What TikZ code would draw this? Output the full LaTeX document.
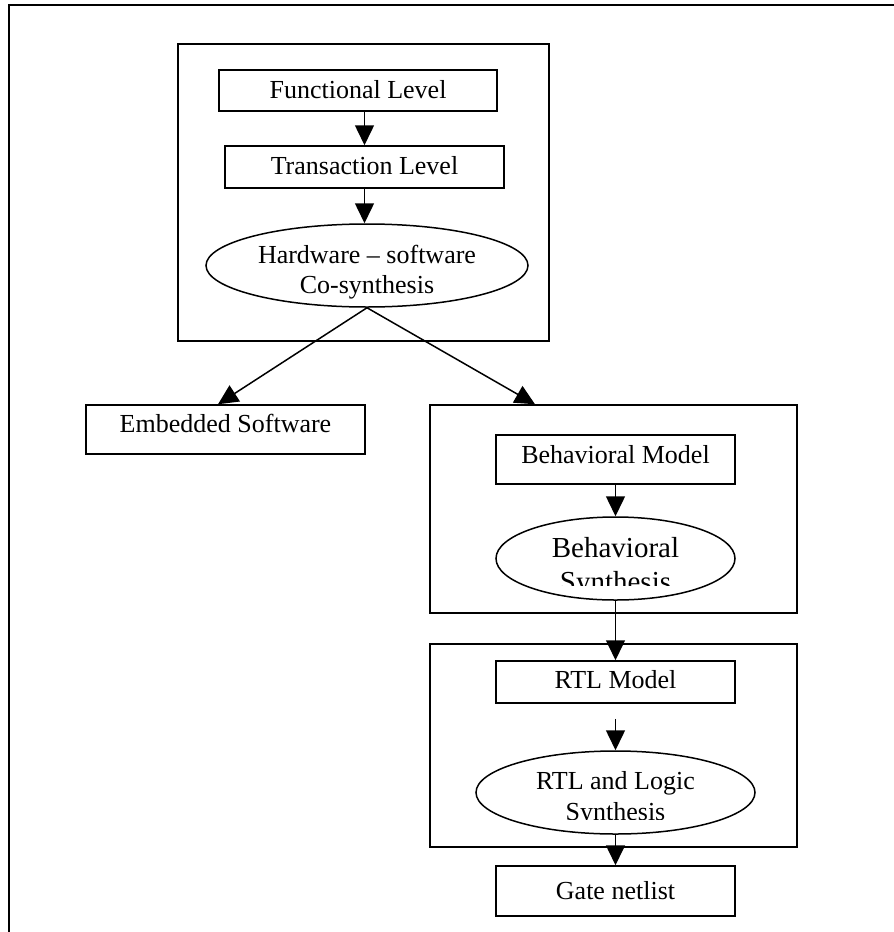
\documentclass[tikz,border=0pt]{standalone}
\usepackage{fontspec}
\setmainfont{Liberation Serif}
\usetikzlibrary{arrows.meta,shapes.geometric}

\tikzset{every picture/.style={line width=1.5pt}}

\begin{document}
\begin{tikzpicture}[
            x=1pt,
            y=1pt,
            yscale=-1,
            xscale=1,
            every node/.style={text=black},
            group/.style={draw, rectangle, inner sep=0pt},
            stage/.style={draw, rectangle, fill=white, inner sep=0pt, text height=17pt, font=\fontsize{26}{30}\selectfont},
            synth/.style={draw, ellipse, fill=white, inner sep=0pt},
            synthtext/.style={align=center, inner sep=0pt, font=\fontsize{26}{30}\selectfont},
            flow/.style={-{Triangle[length=20pt,width=19pt]}},
            line width=1.5pt
        ]
            \useasboundingbox (0,0) rectangle (894,932);
            \draw (9,932) -- (9,5) -- (894,5);

            \node[group, minimum width=371pt, minimum height=297pt] (topgroup) at (363.5,192.5) {};
            \node[group, minimum width=367pt, minimum height=208pt] (behgroup) at (613.5,509) {};
            \node[group, minimum width=367pt, minimum height=203pt] (rtlgroup) at (613.5,745.5) {};

            \node[stage, minimum width=278pt, minimum height=41pt, text depth=2pt] (func) at (358,90.5) {Functional Level};
            \node[stage, minimum width=279pt, minimum height=42pt, text depth=2pt] (trans) at (364.5,167) {Transaction Level};
            \node[synth, minimum width=322pt, minimum height=83pt] (hwsw) at (367,265.5) {};
            \node[synthtext] (hwswtext) at (367,272) {Hardware – software\\Co-synthesis};

            \node[stage, minimum width=279pt, minimum height=49pt, text depth=12pt] (embsw) at (225.5,429.5) {Embedded Software};

            \node[stage, minimum width=239pt, minimum height=49pt, text depth=9pt] (behmodel) at (615.5,459.5) {Behavioral Model};
            \node[synth, minimum width=239pt, minimum height=83pt] (behsynth) at (615.5,558.5) {};
            \begin{scope}
                \clip (480,510) rectangle (750,585);
                \node[synthtext, font=\fontsize{29}{34}\selectfont] (behtext) at (615.5,567.5) {Behavioral\\Synthesis};
            \end{scope}

            \node[stage, minimum width=239pt, minimum height=42pt, text depth=4pt] (rtlmodel) at (615.5,682) {RTL Model};
            \node[synth, minimum width=279pt, minimum height=83pt] (rtlsynth) at (615.5,792.5) {};
            \begin{scope}
                \clip (470,745) rectangle (760,819);
                \node[synthtext, font=\fontsize{26}{31}\selectfont] (rtltext) at (615.5,798.5) {RTL and Logic\\Synthesis};
            \end{scope}

            \node[stage, minimum width=239pt, minimum height=50pt, text depth=0pt] (gate) at (615.5,891) {Gate netlist};

            \draw[flow] (trans.north |- func.south) -- (trans.north);
            \draw[flow] (trans.south) -- (trans.south |- hwsw.north);
            \draw[flow] (hwsw.south) -- ([xshift=-7.5pt]embsw.north);
            \draw[flow] (hwsw.south) -- ([xshift=-78.5pt]behgroup.north);
            \draw[flow] (behmodel.south) -- (behsynth.north);
            \draw[flow] (behsynth.south) -- (rtlmodel.north);
            \draw[flow, shorten <=15pt] (rtlmodel.south) -- (rtlsynth.north);
            \draw[flow] (rtlsynth.south) -- (gate.north);
        \end{tikzpicture}
\end{document}
